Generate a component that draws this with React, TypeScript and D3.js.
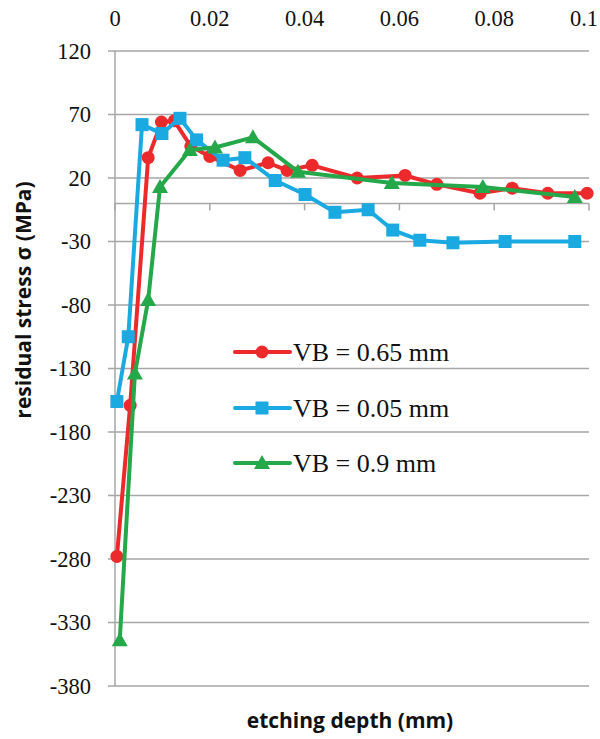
import React from "react";
import * as d3 from "d3";

const xTicks = [0, 0.02, 0.04, 0.06, 0.08, 0.1];
const xTickLabels = ["0", "0.02", "0.04", "0.06", "0.08", "0.1"];
const yTicks = [120, 70, 20, -30, -80, -130, -180, -230, -280, -330, -380];

const redX = [0.0004, 0.0032, 0.007, 0.0098, 0.0125, 0.016, 0.02, 0.0264, 0.0323, 0.0363, 0.0416, 0.0511, 0.0612, 0.0679, 0.077, 0.0838, 0.0913, 0.0996];
const redY = [-278, -159, 36, 64, 65, 45, 37, 26, 32, 26, 30, 20, 22, 15, 8, 12, 8, 8];

const blueX = [0.0004, 0.0028, 0.0057, 0.0099, 0.0137, 0.0172, 0.0228, 0.0274, 0.0338, 0.0401, 0.0464, 0.0534, 0.0586, 0.0643, 0.0713, 0.0823, 0.097];
const blueY = [-156, -105, 62, 55, 67, 50, 34, 36, 18, 7, -7, -5, -21, -29, -31, -30, -30];

const greenX = [0.001, 0.0042, 0.007, 0.0095, 0.0158, 0.0211, 0.0291, 0.0386, 0.0584, 0.0776, 0.097];
const greenY = [-344, -134, -76, 13, 42, 44, 52, 25, 16, 13, 5];

const seriesNames = ["VB = 0.65 mm", "VB = 0.05 mm", "VB = 0.9 mm"];
const seriesColors = ["#ec2a2c", "#1ba9e1", "#25a84a"];
const seriesMarkers = ["circle", "square", "triangle"];

const W = 600;
const H = 739;

function Marker({ type, x, y, color }: { type: string; x: number; y: number; color: string }) {
  if (type === "circle") return <circle cx={x} cy={y} r={6.5} fill={color} />;
  if (type === "square") return <rect x={x - 6.5} y={y - 6.5} width={13} height={13} fill={color} />;
  const s = 8;
  return <path d={`M${x},${y - s} L${x + s},${y + s * 0.75} L${x - s},${y + s * 0.75} Z`} fill={color} />;
}

export default function App() {
  const x = d3.scaleLinear().domain([0, 0.1]).range([115, 589]);
  const y = d3.scaleLinear().domain([-380, 120]).range([686, 51]);
  const series = [
    { xs: redX, ys: redY },
    { xs: blueX, ys: blueY },
    { xs: greenX, ys: greenY },
  ];
  const line = d3
    .line<[number, number]>()
    .x((d) => x(d[0]))
    .y((d) => y(d[1]));
  const gridColor = "#a6a6a6";
  const serif = "'Liberation Serif', 'Times New Roman', serif";
  const sans = "'Open Sans', 'Liberation Sans', sans-serif";
  const legendY = [352, 408, 463];

  return (
    <svg width={W} height={H} style={{ position: "absolute", left: 0, top: 0, background: "#fff" }}>
      {yTicks.map((t) => (
        <line key={"g" + t} x1={108} x2={589} y1={y(t)} y2={y(t)} stroke={gridColor} strokeWidth={1.5} />
      ))}
      <line x1={x(0)} x2={x(0)} y1={y(120)} y2={y(-380)} stroke={gridColor} strokeWidth={1.5} />
      <line x1={x(0)} x2={x(0.1)} y1={y(0)} y2={y(0)} stroke={gridColor} strokeWidth={1.5} />
      {xTicks.map((t) => (
        <line key={"xt" + t} x1={x(t)} x2={x(t)} y1={y(0)} y2={y(0) + 7} stroke={gridColor} strokeWidth={1.5} />
      ))}
      {yTicks.map((t) => (
        <text key={"yl" + t} x={91} y={y(t)} dy="0.35em" textAnchor="end" fontFamily={serif} fontSize={22.5} fill="#111">
          {t}
        </text>
      ))}
      {xTicks.map((t, i) => {
        const last = i === xTicks.length - 1;
        return (
          <text
            key={"xl" + t}
            x={last ? 598 : x(t)}
            y={26}
            textAnchor={last ? "end" : "middle"}
            fontFamily={serif}
            fontSize={22.5}
            fill="#111"
          >
            {xTickLabels[i]}
          </text>
        );
      })}
      {series.map((s, i) => (
        <g key={"s" + i}>
          <path
            d={line(s.xs.map((v, j) => [v, s.ys[j]] as [number, number])) || ""}
            fill="none"
            stroke={seriesColors[i]}
            strokeWidth={4}
            strokeLinejoin="round"
          />
          {s.xs.map((v, j) => (
            <Marker key={j} type={seriesMarkers[i]} x={x(v)} y={y(s.ys[j])} color={seriesColors[i]} />
          ))}
        </g>
      ))}
      {seriesNames.map((n, i) => (
        <g key={"lg" + i}>
          <line x1={235} x2={290} y1={legendY[i]} y2={legendY[i]} stroke={seriesColors[i]} strokeWidth={4} strokeLinecap="round" />
          <Marker type={seriesMarkers[i]} x={262} y={legendY[i]} color={seriesColors[i]} />
          <text x={293} y={legendY[i]} dy="0.35em" fontFamily={serif} fontSize={26} fill="#111">
            {n}
          </text>
        </g>
      ))}
      <text
        transform={`translate(31,${300}) rotate(-90)`}
        textAnchor="middle"
        fontFamily={sans}
        fontWeight="bold"
        fontSize={21}
        fill="#111"
      >
        residual stress σ (MPa)
      </text>
      <text x={350} y={728} textAnchor="middle" fontFamily={sans} fontWeight="bold" fontSize={21} fill="#111">
        etching depth (mm)
      </text>
    </svg>
  );
}
